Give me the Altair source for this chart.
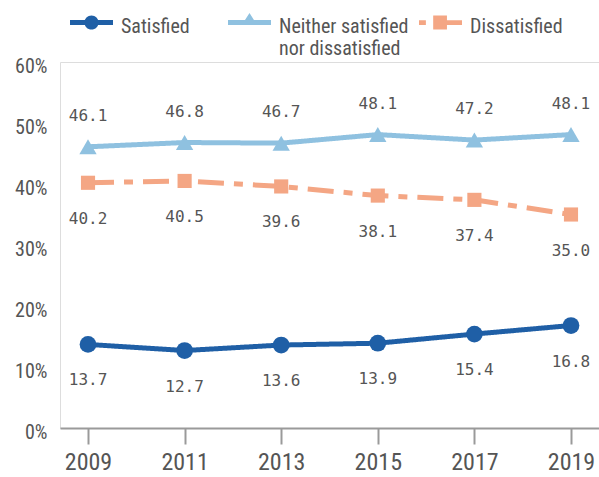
import altair as alt
import pandas as pd

years = [2009, 2011, 2013, 2015, 2017, 2019]
series_names = ["Satisfied", "Neither satisfied nor dissatisfied", "Dissatisfied"]
satisfied = [13.7, 12.7, 13.6, 13.9, 15.4, 16.8]
neither = [46.1, 46.8, 46.7, 48.1, 47.2, 48.1]
dissatisfied = [40.2, 40.5, 39.6, 38.1, 37.4, 35.0]
y_ticks = [0, 10, 20, 30, 40, 50, 60]

colors = ["#1f5fa6", "#8fc1e0", "#f4a684"]
shapes = ["circle", "triangle-up", "square"]
sizes = [280, 300, 200]
dashes = [[1, 0], [1, 0], [26, 10, 9, 10]]
label_dy = [36, -31, 36]

values = [satisfied, neither, dissatisfied]
rows = []
for name, vals in zip(series_names, values):
    for yr, v in zip(years, vals):
        rows.append({"year": str(yr), "series": name, "value": v})
df = pd.DataFrame(rows)

NARROW = "Liberation Sans Narrow, Roboto Condensed, Arial Narrow, sans-serif"
GRAY = "#555555"

x_enc = alt.X("year:O", scale=alt.Scale(type="point", padding=0.29),
              axis=alt.Axis(title=None, labelAngle=0, domainColor="#9a9a9a", domainWidth=2,
                            tickColor="#9a9a9a", tickWidth=2, tickSize=16,
                            labelFontSize=24, labelColor=GRAY, labelFont=NARROW,
                            labelPadding=6, grid=False))
y_enc = alt.Y("value:Q", scale=alt.Scale(domain=[0, 60], nice=False),
              axis=alt.Axis(title=None, values=y_ticks, labelExpr="datum.value + '%'",
                            domain=False, ticks=False, grid=False, labelFontSize=20,
                            labelColor=GRAY, labelFont=NARROW, labelPadding=13, labelOffset=4))

base = alt.Chart(df)
layers = []
for i, name in enumerate(series_names):
    sub = base.transform_filter(alt.datum.series == name)
    layers.append(sub.mark_line(strokeWidth=5, color=colors[i], strokeDash=dashes[i]).encode(x=x_enc, y=y_enc))
for i, name in enumerate(series_names):
    sub = base.transform_filter(alt.datum.series == name)
    layers.append(sub.mark_point(filled=True, opacity=1, shape=shapes[i], size=sizes[i],
                                 color=colors[i]).encode(x=x_enc, y=y_enc))
for i, name in enumerate(series_names):
    sub = base.transform_filter(alt.datum.series == name)
    layers.append(sub.mark_text(font="DejaVu Sans Mono", fontSize=16, color=GRAY, dy=label_dy[i]).encode(
        x=x_enc, y=y_enc, text=alt.Text("value:Q", format=".1f")))

# legend symbols: line + marker, all sub-paths clockwise so they union; shifted down a little
S = 0.28
def rect(x0, x1, y0, y1):
    return f"M{x0},{y0 + S:.3f} L{x1},{y0 + S:.3f} L{x1},{y1 + S:.3f} L{x0},{y1 + S:.3f} Z "
sym_paths = [
    rect(-1, 1, -0.12, 0.12) +
    f"M-0.33,{S} A0.33,0.33 0 1,1 0.33,{S} A0.33,0.33 0 1,1 -0.33,{S} Z",
    rect(-1, 1, -0.12, 0.12) +
    f"M0,{-0.44 + S:.3f} L0.36,{0.12 + S:.3f} L-0.36,{0.12 + S:.3f} Z",
    rect(-1, -0.68, -0.11, 0.11) + rect(-0.34, 0.3, -0.33, 0.33) + rect(0.3, 1, -0.11, 0.11),
]
pad = "\u00a0" * 6 + "\u200b"
label_expr = ("datum.label == 'Neither satisfied nor dissatisfied' ? ['Neither satisfied', 'nor dissatisfied'] : "
              f"datum.label == 'Satisfied' ? ['Satisfied{pad}', ''] : [datum.label, '']")
leg = alt.Legend(title=None, orient="none", legendX=10, legendY=-67, direction="horizontal",
                 symbolSize=1849, symbolStrokeWidth=0, labelFontSize=20, labelFont=NARROW,
                 labelColor=GRAY, labelLimit=400, labelOffset=8, columnPadding=10, gridAlign="none",
                 labelBaseline="top", padding=0, labelExpr=label_expr)
legend_layer = base.transform_filter("false").mark_point(filled=True, opacity=1).encode(
    color=alt.Color("series:N", scale=alt.Scale(domain=series_names, range=colors), legend=leg),
    shape=alt.Shape("series:N", scale=alt.Scale(domain=series_names, range=sym_paths), legend=leg),
)

chart = alt.layer(*layers, legend_layer).properties(
    width=539, height=366,
    autosize=alt.AutoSizeParams(type="none"),
    padding={"left": 60, "top": 62, "right": 0, "bottom": 49},
).configure_view(stroke=None).configure(background="white")

chart.save("out.html", embed_options={"renderer": "svg", "actions": False})
